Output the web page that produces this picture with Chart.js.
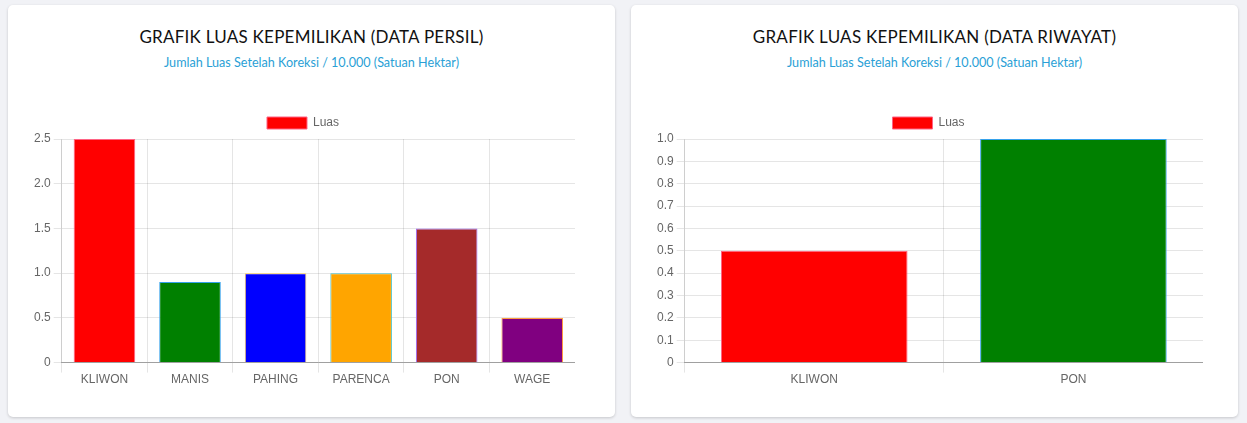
<!DOCTYPE html>
<html>
<head>
<meta charset="utf-8">
<script src="https://cdn.jsdelivr.net/npm/chart.js@4/dist/chart.umd.min.js"></script>
<style>
  body { margin: 0; background: #f1f2f6; width: 1247px; height: 423px; overflow: hidden; }
  .card {
    position: absolute; top: 5px; width: 607px; height: 412px;
    background: #fff; border-radius: 5px;
    box-shadow: 0 1px 3px rgba(0, 0, 0, 0.18);
  }
  .card h4 {
    position: absolute; left: 0; right: 0; top: 21px; margin: 0;
    text-align: center; font-family: Lato, sans-serif; font-weight: 400;
    font-size: 17px; color: #111; letter-spacing: 0.25px;
  }
  .card p {
    position: absolute; left: 0; right: 0; top: 50px; margin: 0;
    text-align: center; font-family: Lato, sans-serif; font-size: 12.6px; color: #2a9fd6;
  }
  .chart-box { position: absolute; top: 102px; height: 280px; }
</style>
</head>
<body>
<div class="card" style="left:8px">
  <h4>GRAFIK LUAS KEPEMILIKAN (DATA PERSIL)</h4>
  <p>Jumlah Luas Setelah Koreksi / 10.000 (Satuan Hektar)</p>
  <div class="chart-box" style="left:23px;width:544px"><canvas id="persil"></canvas></div>
</div>
<div class="card" style="left:631px">
  <h4>GRAFIK LUAS KEPEMILIKAN (DATA RIWAYAT)</h4>
  <p>Jumlah Luas Setelah Koreksi / 10.000 (Satuan Hektar)</p>
  <div class="chart-box" style="left:23px;width:549px"><canvas id="riwayat"></canvas></div>
</div>
<script>
// Data
const persilLabels = ['KLIWON', 'MANIS', 'PAHING', 'PARENCA', 'PON', 'WAGE'];
const persilValues = [2.5, 0.9, 1.0, 1.0, 1.5, 0.5];
const persilFill = ['red', 'green', 'blue', 'orange', 'brown', 'purple'];
const persilBorder = [
  'rgba(255, 99, 132, 1)', 'rgba(54, 162, 235, 1)', 'rgba(255, 206, 86, 1)',
  'rgba(75, 192, 192, 1)', 'rgba(153, 102, 255, 1)', 'rgba(255, 159, 64, 1)'
];

const riwayatLabels = ['KLIWON', 'PON'];
const riwayatValues = [0.5, 1.0];
const riwayatFill = ['red', 'green'];
const riwayatBorder = ['rgba(255, 99, 132, 1)', 'rgba(54, 162, 235, 1)'];

Chart.defaults.font.family = '"Liberation Sans", Arial, sans-serif';
Chart.defaults.font.size = 12;
Chart.defaults.color = '#666';

// Tick label like "1.0", but plain "0" at the origin
const fmtTick = v => (v === 0 ? '0' : v.toFixed(1));

const createChart = (id, labels, values, fill, border, max, step) => new Chart(document.getElementById(id), {
  type: 'bar',
  data: {
    labels,
    datasets: [{
      label: 'Luas',
      data: values,
      backgroundColor: fill,
      borderColor: border,
      borderWidth: 1,
    }],
  },
  options: {
    responsive: true,
    maintainAspectRatio: false,
    animation: false,
    plugins: {
      legend: { position: 'top', labels: { boxWidth: 40 } },
      tooltip: { enabled: false },
    },
    scales: {
      x: {
        grid: { color: 'rgba(0,0,0,0.1)', tickLength: 10 },
        border: { color: 'rgba(0,0,0,0.3)' },
        ticks: { padding: 0 },
      },
      y: {
        min: 0,
        max,
        ticks: { stepSize: step, callback: fmtTick, padding: 3 },
        grid: { color: 'rgba(0,0,0,0.1)', tickLength: 8 },
        border: { color: 'rgba(0,0,0,0.1)' },
      },
    },
  },
});

createChart('persil', persilLabels, persilValues, persilFill, persilBorder, 2.5, 0.5);
createChart('riwayat', riwayatLabels, riwayatValues, riwayatFill, riwayatBorder, 1.0, 0.1);
</script>
</body>
</html>
